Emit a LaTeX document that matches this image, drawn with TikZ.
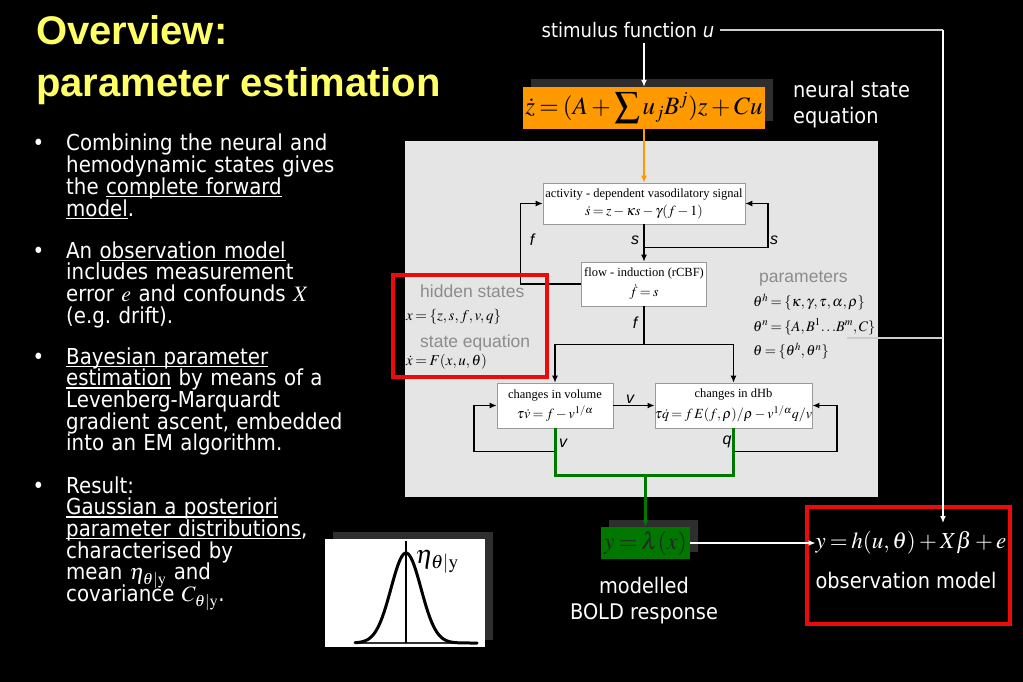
\documentclass[tikz,border=0pt]{standalone}
\usepackage{mathptmx}
\usepackage[no-math]{fontspec}
\setmainfont{Liberation Serif}
\setsansfont{Liberation Sans}
\newfontfamily\slidefont[FakeStretch=0.9]{DejaVu Sans}
\usetikzlibrary{arrows.meta, shadows}
\definecolor{titleyellow}{rgb}{1, 1, 0.4}
\definecolor{neuralorange}{rgb}{1, 0.6, 0}
\definecolor{boldgreen}{rgb}{0, 0.47, 0}
\definecolor{panelgray}{rgb}{0.9, 0.9, 0.9}
\definecolor{shadowgray}{rgb}{0.18, 0.18, 0.18}
\definecolor{boxred}{rgb}{0.93, 0.04, 0.04}
\definecolor{labelgray}{rgb}{0.55, 0.55, 0.55}
\definecolor{edgegray}{rgb}{0.6, 0.6, 0.6}
\definecolor{wiregray}{rgb}{0.8, 0.8, 0.8}
\thickmuskip=3mu plus 2mu
\medmuskip=2.5mu plus 1mu minus 1mu
\newcommand{\undl}[1]{\leavevmode\setbox0\hbox{#1}\rlap{\rule[-3pt]{\wd0}{1.3pt}}\box0\relax}
\newcommand{\tightlines}{\lineskiplimit-20pt\relax}
\newcommand{\bul}{\leavevmode\llap{•\hspace{22pt}}}
\newcommand{\beq}[1]{{\fontsize{14}{15}\selectfont$#1$}}

\begin{document}
\begin{tikzpicture}[x=1pt, y=-1pt, inner sep=0pt,
		heading/.style={anchor=base west, text=titleyellow, font=\sffamily\bfseries\fontsize{40}{40}\selectfont},
		slide/.style={text=white, font=\slidefont\fontsize{21.5}{26}\selectfont},
		bullet/.style={slide, anchor=base west, text width=300pt, align=left, font=\slidefont\fontsize{22}{21.7}\selectfont\tightlines},
		box/.style={draw=edgegray, fill=white, line width=0.6pt, align=center, font=\fontsize{12.5}{15}\selectfont},
		conn/.style={line width=1.3pt, -{Latex[length=7pt, width=6pt]}},
		wire/.style={line width=1.3pt},
		lab/.style={font=\sffamily\itshape\fontsize{16}{16}\selectfont},
		gray text/.style={anchor=base west, text=labelgray, font=\sffamily\fontsize{17.5}{20}\selectfont},
		eq/.style={anchor=base west, font=\fontsize{15}{15}\selectfont},
		redbox/.style={draw=boxred, line width=4pt},
		shadowed/.style={drop shadow={shadow xshift=7.5pt, shadow yshift=7.5pt, fill=shadowgray, opacity=1}}]
	\useasboundingbox[fill=black] (0,0) rectangle (1023,682);

	\node[heading] (title) at (36,45) {Overview:};
	\node[heading] (subtitle) at (36,97) {parameter estimation};

	\node[bullet] (b1) at (66,151) {\bul Combining the neural and\\hemodynamic states gives\\the \undl{complete forward}\\\undl{model}.};
	\node[bullet] (b2) at (66,258) {\bul An \undl{observation model}\\includes measurement\\error $e$ and confounds $X$\\(e.g.\ drift).};
	\node[bullet] (b3) at (66,364) {\bul\undl{Bayesian parameter}\\\undl{estimation} by means of a\\Levenberg-Marquardt\\gradient ascent, embedded\\into an EM algorithm.};
	\node[bullet] (b4) at (66,493) {\bul Result:\\\undl{Gaussian a posteriori}\\\undl{parameter distributions},\\characterised by\\mean $\eta_{\theta|\mathrm{y}}$ and\\covariance $C_{\theta|\mathrm{y}}$.};

	\node[slide, font=\slidefont\fontsize{20}{20}\selectfont] (stim) at (628,30) {stimulus function \textit{u}};
	\node[fill=neuralorange, shadowed, minimum width=242pt, minimum height=42pt, font=\fontsize{25}{25}\selectfont] (neural) at (644,108) {$\dot z=(A+\displaystyle\sum u_jB^j)z+Cu$};
	\node[slide, anchor=west, align=left] (neuraltxt) at (793,105) {neural state\\equation};

	\node[fill=panelgray, minimum width=473pt, minimum height=356pt] (panel) at (641.5,319) {};
	\node[box, minimum width=202pt, minimum height=41pt] (act) at (644,203.5) {activity - dependent vasodilatory signal\\[3pt]\beq{\dot s=z-\kappa s-\gamma(f-1)}};
	\node[box, minimum width=125pt, minimum height=44pt] (flow) at (644,284) {flow - induction (rCBF)\\[5pt]\beq{\dot f=s}};
	\node[box, minimum width=116pt, minimum height=45pt] (vol) at (555,405.5) {changes in volume\\[4pt]\beq{\tau\dot v=f-v^{1/\alpha}}};
	\node[box, minimum width=157pt, minimum height=45pt] (dhb) at (733.5,405.5) {changes in dHb\\[4pt]\beq{\tau\dot q=f\,E(f,\rho)/\rho-v^{1/\alpha}q/v}};

	\node[anchor=base west, text width=130pt, align=left, font=\fontsize{14.5}{24.5}\selectfont] (params) at (753,282) {\hspace{6pt}{\sffamily\color{labelgray}\fontsize{17.5}{24.5}\selectfont parameters}\\$\theta^h=\{\kappa,\gamma,\tau,\alpha,\rho\}$\\$\theta^n=\{A,B^1\!\ldots\!B^m,C\}$\\$\theta=\{\theta^h,\theta^n\}$};

	\draw[conn, neuralorange, line width=2.5pt] (neural.south) -- (act.north);
	\draw[conn] (act.south) -- (flow.north);
	\path (act.south) ++(0,23) coordinate (sfork);
	\draw[conn] (sfork) -- ++(124,0) |- (act.east);
	\draw[conn] (flow.west) -- ++(-61,0) |- (act.west);
	\draw[wire] (flow.south) -- ++(0,38) coordinate (ffork);
	\draw[conn] (ffork) -| (vol.north);
	\draw[conn] (ffork) -| (dhb.north);
	\draw[conn] (vol.east) -- (dhb.west);
	\draw[conn] (vol.south) -- ++(0,23) -- ++(-81,0) |- (vol.west);
	\draw[conn] (dhb.south) -- ++(0,23) -- ++(103.5,0) |- (dhb.east);

	\node[lab] (sleft) at (635,240) {s};
	\node[lab] (fleft) at (532,240) {f};
	\node[lab] (sright) at (774,240) {s};
	\node[lab] (fdown) at (635,323) {f};
	\node[lab] (vmid) at (630,399) {v};
	\node[lab] (vloop) at (563,443) {v};
	\node[lab] (qloop) at (727,442) {q};

	\node[gray text] (hidlab) at (420,297.5) {hidden states};
	\node[eq] (hideq) at (406,320) {$x=\{z,s,f,v,q\}$};
	\node[gray text] (statelab) at (420,347) {state equation};
	\node[eq] (stateeq) at (406,365) {$\dot x=F(x,u,\theta)$};
	\node[redbox, minimum width=154pt, minimum height=102pt] (hidbox) at (470,326) {};

	\node[fill=white, shadowed, minimum width=160pt, minimum height=108pt] (gauss) at (405,593) {};
	\draw[line width=2pt, black!80] (355,643) -- (477,643);
	\draw[line width=2.5pt] (406,541) -- (406,643);
	\draw[line width=3pt, line cap=round] plot[domain=-51:71, samples=90] ({406+\x}, {643-90*exp(-(\x)*(\x)/450)});
	\node[font=\fontsize{26}{26}\selectfont] (eta) at (437,562) {$\eta_{\theta|\mathrm{y}}$};

	\node[fill=boldgreen, shadowed, minimum width=89pt, minimum height=32pt, text=black!85, font=\fontsize{24}{24}\selectfont] (bold) at (645.5,543) {$y=\lambda(x)$};
	\node[slide, align=center] (boldtxt) at (644,601) {modelled\\BOLD response};
	\draw[wire, boldgreen, line width=3pt] (vol.south) -- ++(0,47) coordinate (gleft) -| (dhb.south);
	\draw[conn, boldgreen, line width=3pt] (bold.north |- gleft) -- (bold.north);

	\node[redbox, minimum width=203pt, minimum height=117pt] (obsbox) at (908.5,565) {};
	\node[text=white, font=\fontsize{23}{23}\selectfont] (obseq) at (911,543) {$y=h(u,\theta)+X\beta+e$};
	\node[slide] (obstxt) at (906,580) {observation model};
	\draw[conn, white] (bold.east) -- (obseq.west);

	\coordinate (utip) at (943,523);
	\coordinate (pwire) at (847,338);
	\draw[wire, wiregray] (stim.east) ++(6,0) coordinate (stimend) -- (stimend -| utip);
	\draw[conn, white] (stimend -| utip) -- (utip);
	\draw[wire, wiregray] (pwire) -- (pwire -| utip);
	\draw[conn, white, line width=2.5pt] ([yshift=-5pt]stim.south -| neural.north) -- (neural.north);
\end{tikzpicture}
\end{document}
